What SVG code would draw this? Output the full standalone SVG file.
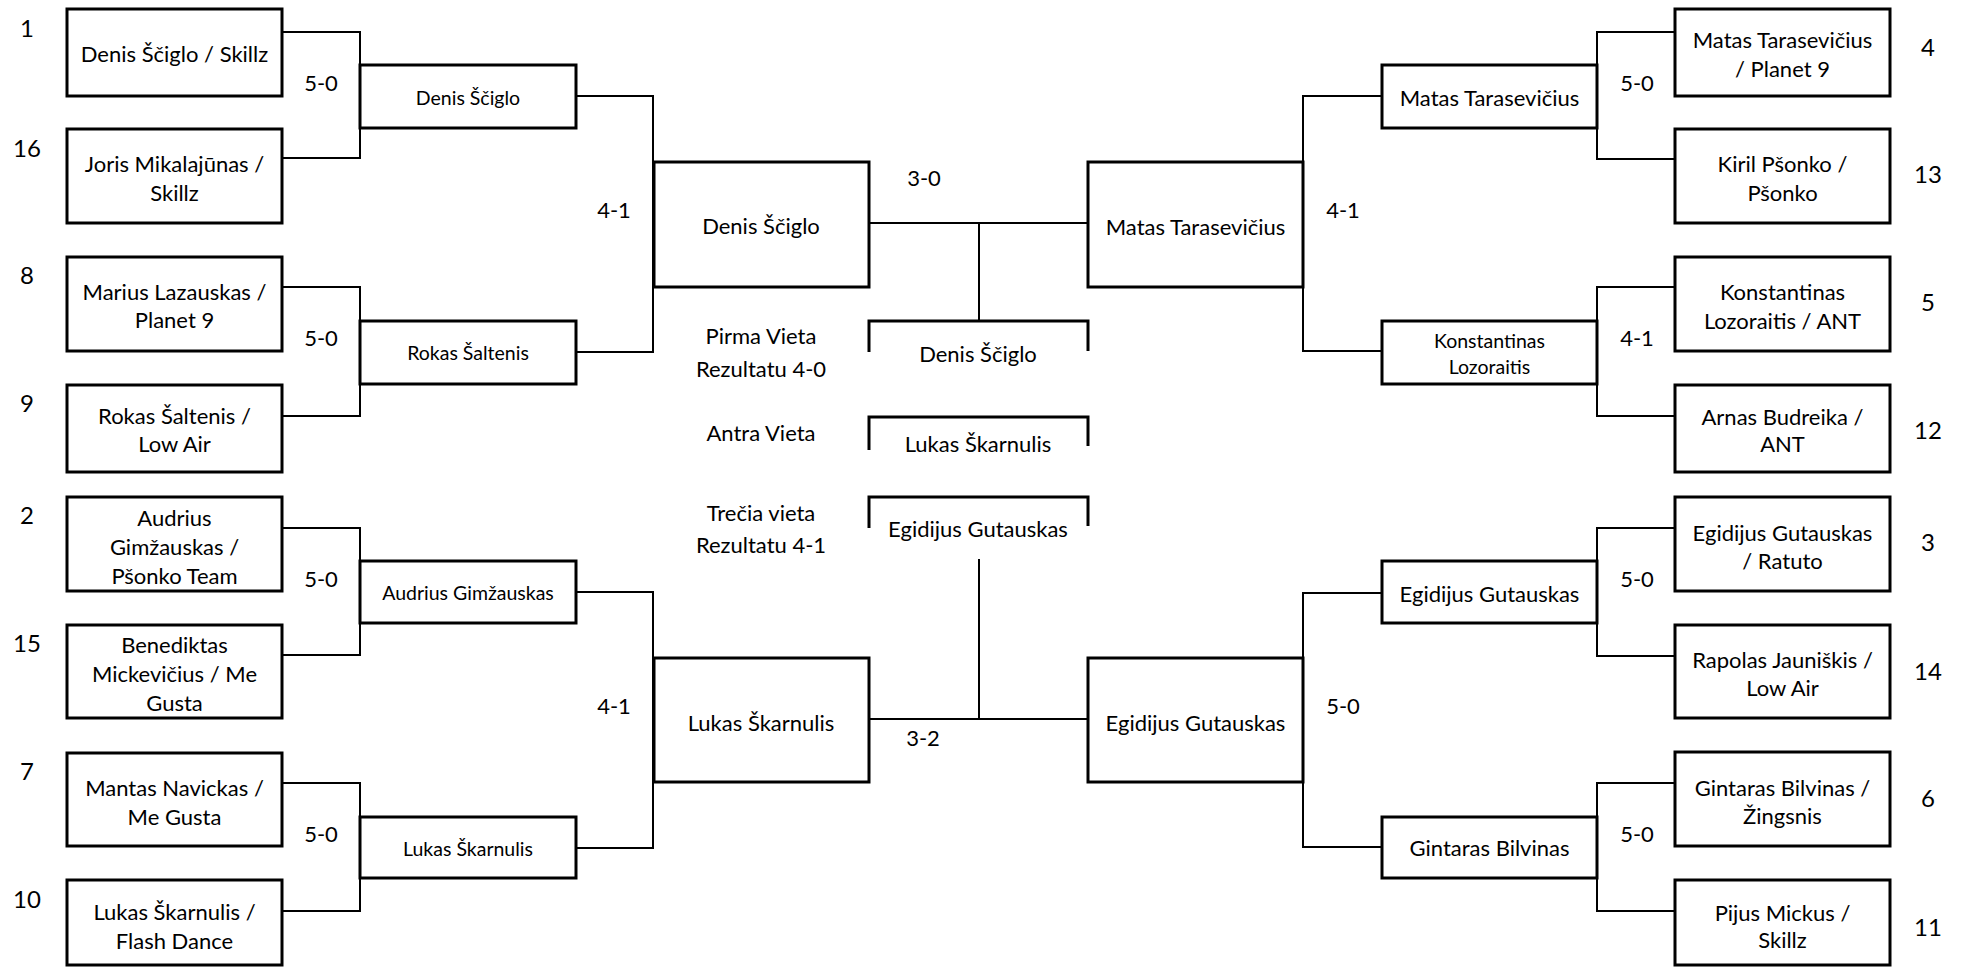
<svg xmlns="http://www.w3.org/2000/svg" width="1968" height="968" viewBox="0 0 1968 968">
<style>
text{font-family:Lato,"Liberation Sans",sans-serif;fill:#000;text-anchor:middle}
.t{font-size:22px}
.s{font-size:19.5px}
.seed{font-size:24px}
.box{fill:#fff;stroke:#000;stroke-width:3}
.ln{fill:none;stroke:#000;stroke-width:2}
.br{fill:none;stroke:#000;stroke-width:3}
</style>
<rect width="1968" height="968" fill="#fff"/>
<g id="connectors">
<path class="ln" d="M282 32H360V158H282M282 287H360V416H282M282 528H360V655H282M282 783H360V911H282"/>
<path class="ln" d="M576 96H653V352H576M576 592H653V848H576"/>
<path class="ln" d="M1675 32H1597V159H1675M1675 287H1597V416H1675M1675 528H1597V656H1675M1675 783H1597V911H1675"/>
<path class="ln" d="M1382 96H1303V351H1382M1382 593H1303V847H1382"/>
<path class="ln" d="M869 223H1088M979 223V321M869 719H1088M979 559V719"/>
</g>
<g id="round1-left">
<g id="n1"><rect class="box" x="67" y="9" width="215" height="87"/><text class="t" x="174.5" y="61.5">Denis Ščiglo / Skillz</text></g>
<g id="n16"><rect class="box" x="67" y="129" width="215" height="94"/><text class="t" x="174.5" y="171.5">Joris Mikalajūnas /</text><text class="t" x="174.5" y="200.5">Skillz</text></g>
<g id="n8"><rect class="box" x="67" y="257" width="215" height="94"/><text class="t" x="174.5" y="299.5">Marius Lazauskas /</text><text class="t" x="174.5" y="328">Planet 9</text></g>
<g id="n9"><rect class="box" x="67" y="385" width="215" height="87"/><text class="t" x="174.5" y="423.5">Rokas Šaltenis /</text><text class="t" x="174.5" y="452">Low Air</text></g>
<g id="n2"><rect class="box" x="67" y="497" width="215" height="94"/><text class="t" x="174.5" y="525.5">Audrius</text><text class="t" x="174.5" y="554.5">Gimžauskas /</text><text class="t" x="174.5" y="583.5">Pšonko Team</text></g>
<g id="n15"><rect class="box" x="67" y="625" width="215" height="93"/><text class="t" x="174.5" y="652.5">Benediktas</text><text class="t" x="174.5" y="681.5">Mickevičius / Me</text><text class="t" x="174.5" y="710.5">Gusta</text></g>
<g id="n7"><rect class="box" x="67" y="753" width="215" height="93"/><text class="t" x="174.5" y="795.5">Mantas Navickas /</text><text class="t" x="174.5" y="824.5">Me Gusta</text></g>
<g id="n10"><rect class="box" x="67" y="880" width="215" height="85"/><text class="t" x="174.5" y="919.5">Lukas Škarnulis /</text><text class="t" x="174.5" y="948.5">Flash Dance</text></g>
</g>
<g id="round1-right">
<g id="n4"><rect class="box" x="1675" y="9" width="215" height="87"/><text class="t" x="1782.5" y="47.5">Matas Tarasevičius</text><text class="t" x="1782.5" y="77">/ Planet 9</text></g>
<g id="n13"><rect class="box" x="1675" y="129" width="215" height="94"/><text class="t" x="1782.5" y="171.5">Kiril Pšonko /</text><text class="t" x="1782.5" y="201">Pšonko</text></g>
<g id="n5"><rect class="box" x="1675" y="257" width="215" height="94"/><text class="t" x="1782.5" y="299.5">Konstantinas</text><text class="t" x="1782.5" y="328.5">Lozoraitis / ANT</text></g>
<g id="n12"><rect class="box" x="1675" y="385" width="215" height="87"/><text class="t" x="1782.5" y="424.5">Arnas Budreika /</text><text class="t" x="1782.5" y="452">ANT</text></g>
<g id="n3"><rect class="box" x="1675" y="497" width="215" height="94"/><text class="t" x="1782.5" y="540.5">Egidijus Gutauskas</text><text class="t" x="1782.5" y="569">/ Ratuto</text></g>
<g id="n14"><rect class="box" x="1675" y="625" width="215" height="93"/><text class="t" x="1782.5" y="667.5">Rapolas Jauniškis /</text><text class="t" x="1782.5" y="696">Low Air</text></g>
<g id="n6"><rect class="box" x="1675" y="752" width="215" height="94"/><text class="t" x="1782.5" y="795.5">Gintaras Bilvinas /</text><text class="t" x="1782.5" y="824">Žingsnis</text></g>
<g id="n11"><rect class="box" x="1675" y="880" width="215" height="85"/><text class="t" x="1782.5" y="920.5">Pijus Mickus /</text><text class="t" x="1782.5" y="948">Skillz</text></g>
</g>
<g id="round2">
<g id="r2-denis"><rect class="box" x="360" y="65" width="216" height="63"/><text class="s" x="468" y="105">Denis Ščiglo</text></g>
<g id="r2-rokas"><rect class="box" x="360" y="321" width="216" height="63"/><text class="s" x="468" y="359.5">Rokas Šaltenis</text></g>
<g id="r2-audrius"><rect class="box" x="360" y="561" width="216" height="62"/><text class="s" x="468" y="600">Audrius Gimžauskas</text></g>
<g id="r2-lukas"><rect class="box" x="360" y="817" width="216" height="61"/><text class="s" x="468" y="855.5">Lukas Škarnulis</text></g>
<g id="r2-matas"><rect class="box" x="1382" y="65" width="215" height="63"/><text class="t" x="1489.5" y="106">Matas Tarasevičius</text></g>
<g id="r2-konstantinas"><rect class="box" x="1382" y="321" width="215" height="63"/><text class="s" x="1489.5" y="348">Konstantinas</text><text class="s" x="1489.5" y="373.5">Lozoraitis</text></g>
<g id="r2-egidijus"><rect class="box" x="1382" y="561" width="215" height="62"/><text class="t" x="1489.5" y="602">Egidijus Gutauskas</text></g>
<g id="r2-gintaras"><rect class="box" x="1382" y="817" width="215" height="61"/><text class="t" x="1489.5" y="856">Gintaras Bilvinas</text></g>
</g>
<g id="round3">
<g id="r3-denis"><rect class="box" x="654" y="162" width="215" height="125"/><text class="t" x="761" y="233.5">Denis Ščiglo</text></g>
<g id="r3-matas"><rect class="box" x="1088" y="162" width="215" height="125"/><text class="t" x="1195.5" y="235">Matas Tarasevičius</text></g>
<g id="r3-lukas"><rect class="box" x="654" y="658" width="215" height="124"/><text class="t" x="761" y="730.5">Lukas Škarnulis</text></g>
<g id="r3-egidijus"><rect class="box" x="1088" y="658" width="215" height="124"/><text class="t" x="1195.5" y="730.5">Egidijus Gutauskas</text></g>
</g>
<g id="podium">
<g id="first"><path class="br" d="M869 352V321H1088V351"/><text class="t" x="978" y="362">Denis Ščiglo</text></g>
<g id="second"><path class="br" d="M869 450V417H1088V446"/><text class="t" x="978" y="452">Lukas Škarnulis</text></g>
<g id="third"><path class="br" d="M869 528V497H1088V526"/><text class="t" x="978" y="537">Egidijus Gutauskas</text></g>
<text class="t" x="761" y="344">Pirma Vieta</text>
<text class="t" x="761" y="377">Rezultatu 4-0</text>
<text class="t" x="761" y="441">Antra Vieta</text>
<text class="t" x="761" y="521">Trečia vieta</text>
<text class="t" x="761" y="553">Rezultatu 4-1</text>
</g>
<g id="scores">
<text class="t" x="321" y="90.5">5-0</text>
<text class="t" x="321" y="345.5">5-0</text>
<text class="t" x="321" y="586.5">5-0</text>
<text class="t" x="321" y="841.5">5-0</text>
<text class="t" x="614" y="217.5">4-1</text>
<text class="t" x="614" y="713.5">4-1</text>
<text class="t" x="1637" y="90.5">5-0</text>
<text class="t" x="1637" y="345.5">4-1</text>
<text class="t" x="1637" y="586.5">5-0</text>
<text class="t" x="1637" y="841.5">5-0</text>
<text class="t" x="1343" y="217.5">4-1</text>
<text class="t" x="1343" y="713.5">5-0</text>
<text class="t" x="924" y="185.5">3-0</text>
<text class="t" x="923" y="745.5">3-2</text>
</g>
<g id="seeds">
<text class="seed" x="27" y="36.5">1</text>
<text class="seed" x="27" y="156.5">16</text>
<text class="seed" x="27" y="283.5">8</text>
<text class="seed" x="27" y="411.5">9</text>
<text class="seed" x="27" y="523.5">2</text>
<text class="seed" x="27" y="651.5">15</text>
<text class="seed" x="27" y="779.5">7</text>
<text class="seed" x="27" y="907.5">10</text>
<text class="seed" x="1928" y="55.5">4</text>
<text class="seed" x="1928" y="182.5">13</text>
<text class="seed" x="1928" y="310.5">5</text>
<text class="seed" x="1928" y="438.5">12</text>
<text class="seed" x="1928" y="550.5">3</text>
<text class="seed" x="1928" y="679.5">14</text>
<text class="seed" x="1928" y="806.5">6</text>
<text class="seed" x="1928" y="935.5">11</text>
</g>
</svg>
